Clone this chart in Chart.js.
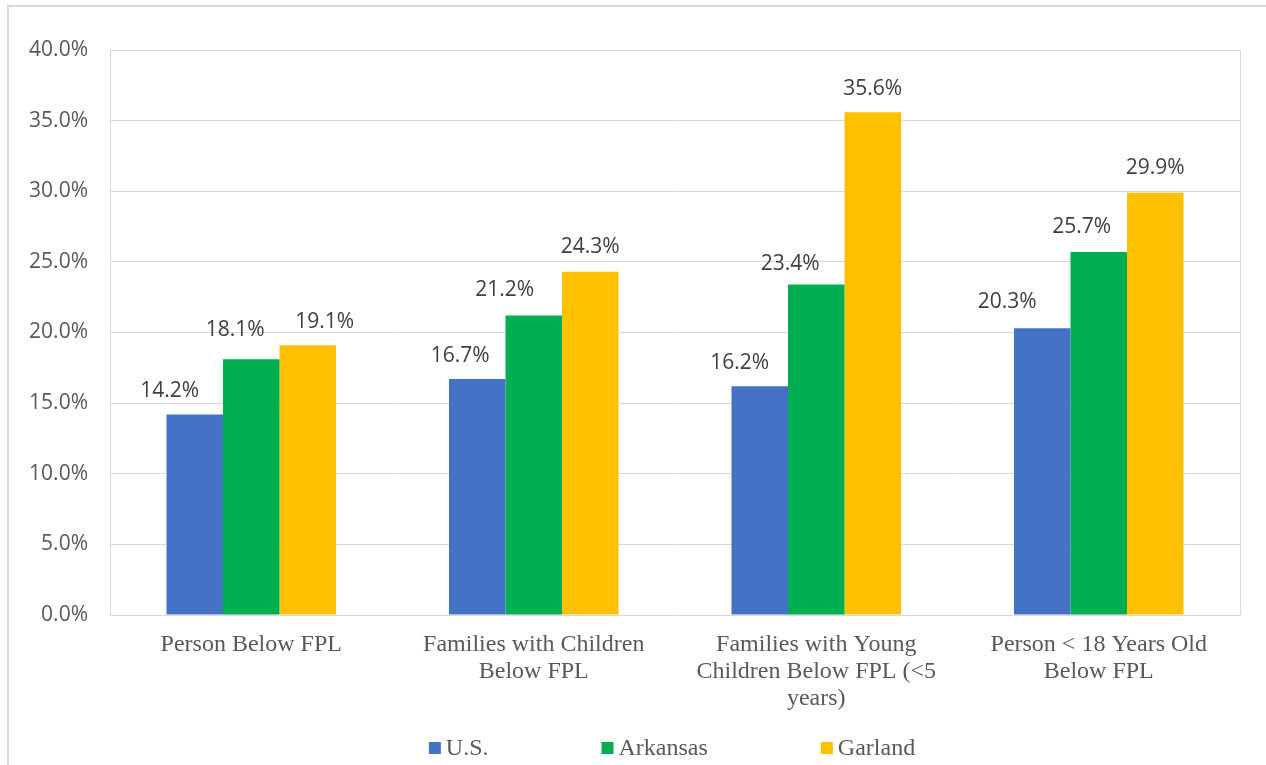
<!DOCTYPE html>
<html>
<head>
<meta charset="utf-8">
<script src="https://cdn.jsdelivr.net/npm/chart.js@4/dist/chart.umd.min.js"></script>
<style>
html,body{margin:0;padding:0;background:#fff;}
#wrap{position:relative;width:1266px;height:765px;}
</style>
</head>
<body>
<div id="wrap"><canvas id="c" width="1266" height="765"></canvas></div>
<script>
const categories = [
  ["Person Below FPL"],
  ["Families with Children", "Below FPL"],
  ["Families with Young", "Children Below FPL (<5", "years)"],
  ["Person < 18 Years Old", "Below FPL"]
];
const seriesNames = ["U.S.", "Arkansas", "Garland"];
const usValues = [14.2, 16.7, 16.2, 20.3];
const arkansasValues = [18.1, 21.2, 23.4, 25.7];
const garlandValues = [19.1, 24.3, 35.6, 29.9];
const seriesColors = ["#4472C4", "#00B050", "#FFC000"];
const yTicks = [0, 5, 10, 15, 20, 25, 30, 35, 40];

// manual nudges of the value labels (px, relative to the bar's top centre), as placed in the original
const labelNudgeX = [[-25, -17, -20, -35], [-16, -29, -26, -17], [17, 0, 0, 0]];
const labelNudgeY = [[25, 25, 25, 28], [31, 27, 22, 26], [25, 26, 25, 26]];

const sansFont = "'Open Sans', 'Noto Sans', sans-serif";
const serifFont = "'Liberation Serif', 'Times New Roman', serif";

const frame = {
  id: 'frame',
  beforeDraw(chart) {
    const ctx = chart.ctx;
    ctx.save();
    ctx.strokeStyle = '#d9d9d9';
    ctx.lineWidth = 2;
    ctx.beginPath();
    ctx.moveTo(8, chart.height);
    ctx.lineTo(8, 6);
    ctx.lineTo(chart.width, 6);
    ctx.stroke();
    ctx.restore();
  },
  afterDatasetsDraw(chart) {
    const ctx = chart.ctx;
    const a = chart.chartArea;
    ctx.save();
    ctx.strokeStyle = '#d9d9d9';
    ctx.lineWidth = 1;
    ctx.beginPath();
    ctx.moveTo(Math.round(a.right) + 0.5, a.top);
    ctx.lineTo(Math.round(a.right) + 0.5, a.bottom);
    ctx.stroke();
    // value labels
    ctx.fillStyle = '#404040';
    ctx.font = '21px ' + sansFont;
    ctx.textAlign = 'center';
    ctx.textBaseline = 'alphabetic';
    chart.data.datasets.forEach((ds, i) => {
      const meta = chart.getDatasetMeta(i);
      meta.data.forEach((bar, j) => {
        ctx.fillText(ds.data[j].toFixed(1) + '%', bar.x + labelNudgeX[i][j], bar.y - labelNudgeY[i][j] + 7.5);
      });
    });
    // legend
    ctx.font = '24px ' + serifFont;
    ctx.textBaseline = 'middle';
    const box = 12, gapBoxText = 5, gapItems = 113;
    const widths = chart.data.datasets.map(ds => box + gapBoxText + ctx.measureText(ds.label).width);
    const total = widths.reduce((s, w) => s + w, 0) + gapItems * (widths.length - 1);
    let x = (a.left + a.right) / 2 - total / 2 - 3;
    const y = 748;
    ctx.textAlign = 'left';
    chart.data.datasets.forEach((ds, i) => {
      ctx.fillStyle = ds.backgroundColor;
      ctx.fillRect(x, y - 6, box, box);
      ctx.fillStyle = '#595959';
      ctx.fillText(ds.label, x + box + gapBoxText, y + 1);
      x += widths[i] + gapItems;
    });
    ctx.restore();
  }
};

const seriesValues = [usValues, arkansasValues, garlandValues];
new Chart(document.getElementById('c'), {
  type: 'bar',
  data: {
    labels: categories,
    datasets: seriesNames.map((name, i) => ({
      label: name,
      data: seriesValues[i],
      backgroundColor: seriesColors[i],
      borderWidth: 0,
      categoryPercentage: 0.6,
      barPercentage: 1.0
    }))
  },
  options: {
    responsive: false,
    animation: false,
    layout: { padding: { left: 0, right: 26, top: 50, bottom: 0 } },
    plugins: {
      legend: { display: false },
      tooltip: { enabled: false }
    },
    scales: {
      x: {
        grid: { display: false, drawTicks: false },
        border: { display: false },
        ticks: {
          color: '#595959',
          font: { family: serifFont, size: 24, lineHeight: 1.13 },
          padding: 16,
          maxRotation: 0,
          autoSkip: false
        },
        afterFit(scale) { scale.height = 150; }
      },
      y: {
        min: 0,
        max: 40,
        afterBuildTicks(scale) { scale.ticks = yTicks.map(v => ({ value: v })); },
        grid: { color: '#d9d9d9', lineWidth: 1, drawTicks: false },
        border: { display: true, color: '#d9d9d9', width: 1 },
        ticks: {
          color: '#595959',
          font: { family: sansFont, size: 21 },
          padding: 22,
          callback: v => Number(v).toFixed(1) + '%'
        },
        afterFit(scale) { scale.width = 110; }
      }
    }
  },
  plugins: [frame]
});
</script>
</body>
</html>
